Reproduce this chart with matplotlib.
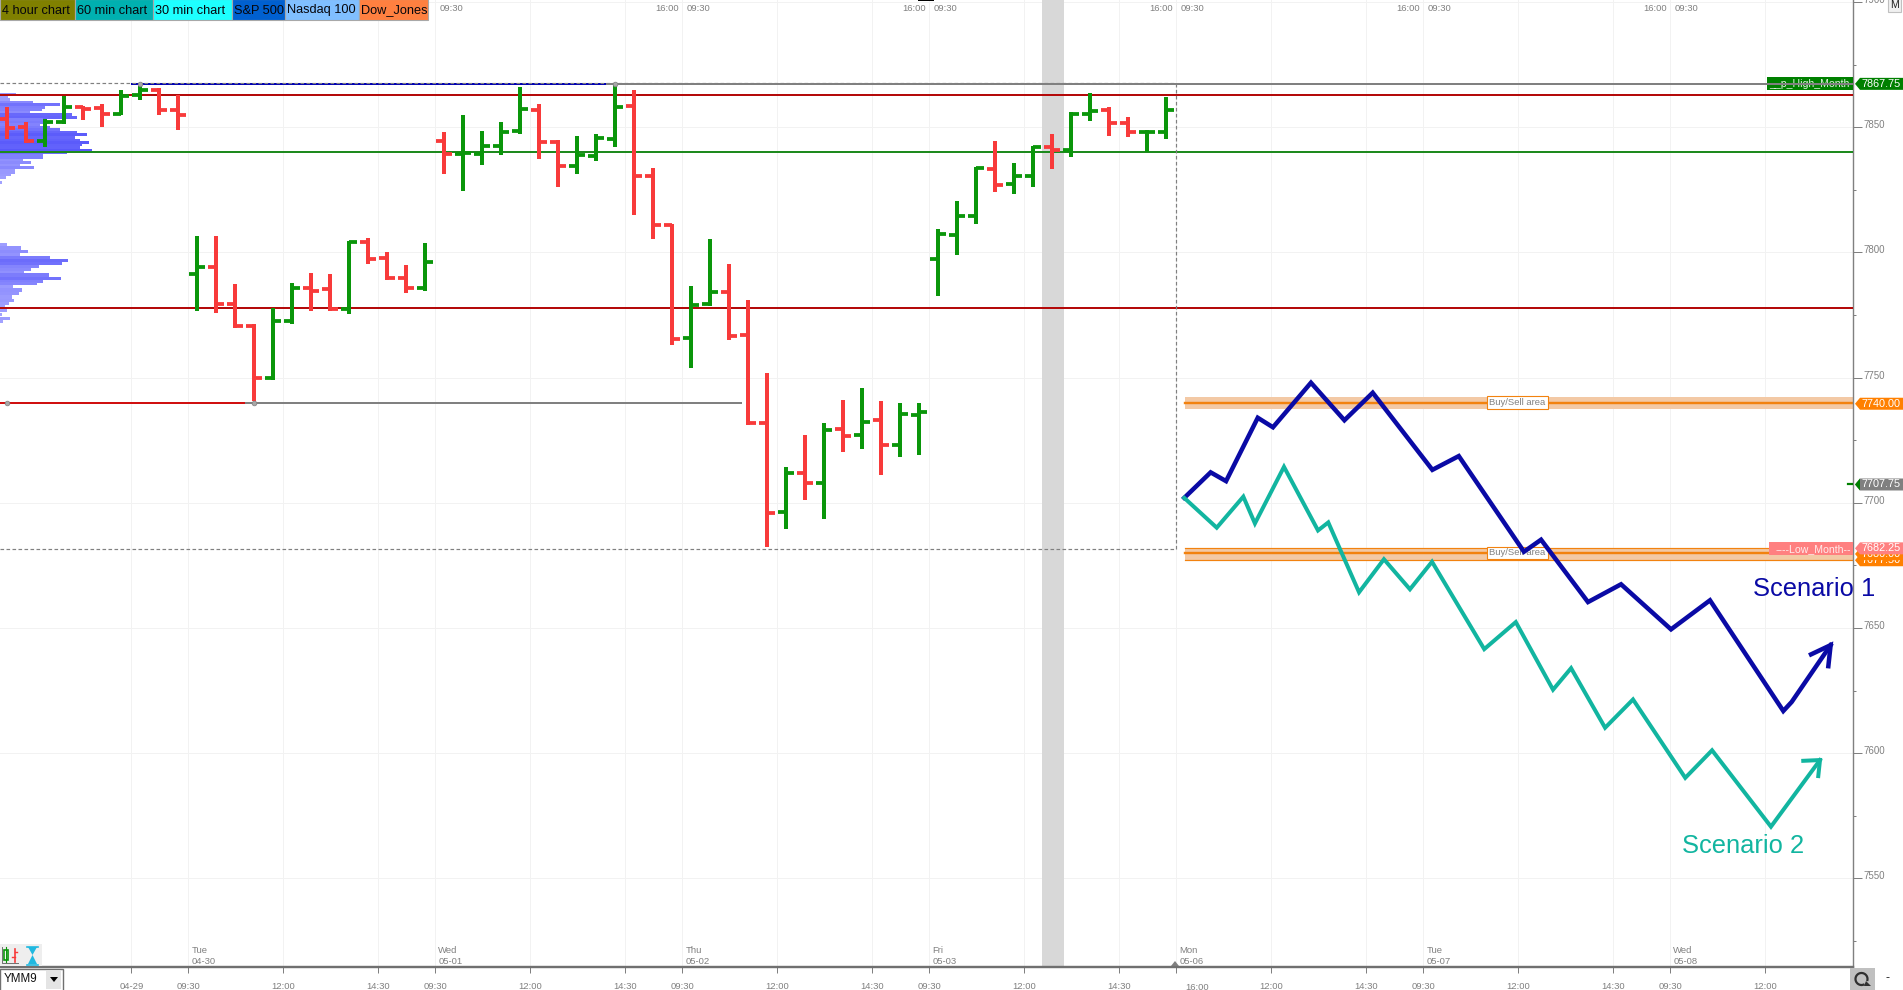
import matplotlib

matplotlib.use("Agg")
import matplotlib.pyplot as plt
import numpy as np
from matplotlib.colors import to_rgb
from matplotlib.patches import Arc, Polygon, Rectangle
from matplotlib.transforms import ScaledTranslation

plt.rcParams["font.family"] = ["Liberation Sans", "DejaVu Sans"]

# Price bars (one value per bar, bar position = list index)
OPENS = [
    7853.25, 7850, 7844.5, 7852, 7858.25, 7857.75, 7855.5, 7862.75, 7865, 7857,
    7791.5, 7794.25, 7779.25, 7770.75, 7749.75, 7772.75, 7786, 7785.25, 7777.25, 7804,
    7798, 7790, 7786, 7844.5, 7839.5, 7839.5, 7842.5, 7848.5, 7857, 7844.25,
    7834.5, 7838.5, 7845.5, 7858.5, 7830.5, 7811, 7766, 7779.25, 7784.25, 7767,
    7731.75, 7696.5, 7712, 7707.75, 7729.5, 7727.25, 7733, 7723.25, 7735, 7797.25,
    7807, 7814.5, 7833.5, 7827.5, 7830.75, 7842.25, 7840.75, 7855.25, 7856.75, 7851.75,
    7848.25, 7848.25,
]
HIGHS = [
    7858, 7852.25, 7853.5, 7862.5, 7858.5, 7859.25, 7864.75, 7866.5, 7865.5, 7863,
    7806.5, 7806.5, 7787.25, 7771.25, 7778, 7788, 7792, 7791.5, 7804.5, 7805.75,
    7800, 7795, 7803.75, 7848, 7854.75, 7848.5, 7852, 7866, 7859.25, 7844.75,
    7846.5, 7847.5, 7867.5, 7864.75, 7833.75, 7811.5, 7786.5, 7805.25, 7795.5, 7781,
    7752, 7714.25, 7727, 7731.75, 7741.25, 7746, 7740.5, 7740, 7739.75, 7809.25,
    7820.5, 7834.25, 7844.5, 7835.75, 7842.5, 7847.25, 7856, 7863.75, 7858, 7854,
    7848.75, 7862,
]
LOWS = [
    7845.25, 7843.75, 7842, 7851.5, 7852.75, 7850, 7854.75, 7861, 7855, 7848.75,
    7776.75, 7775.75, 7770, 7740.5, 7749.25, 7771.5, 7776.75, 7776.75, 7775.5, 7795.5,
    7789, 7783.75, 7784.5, 7831.5, 7824.75, 7835, 7839, 7847.25, 7837.5, 7826.25,
    7831.5, 7836.5, 7842.25, 7815, 7805.5, 7763, 7754, 7778.5, 7765, 7731,
    7682.5, 7689.75, 7701.25, 7693.5, 7720.5, 7721.5, 7711, 7718.5, 7719.25, 7782.75,
    7799, 7811.25, 7824, 7823.5, 7826, 7833.5, 7838.25, 7852.5, 7846.5, 7846.25,
    7840.25, 7845.25,
]
CLOSES = [
    7849.75, 7844.5, 7852.25, 7858.25, 7857.25, 7855.5, 7862.5, 7864.75, 7857, 7854.75,
    7794.25, 7779.25, 7770.75, 7750, 7772.75, 7786, 7784.5, 7777.25, 7804, 7797.5,
    7790, 7785.75, 7796.25, 7839.5, 7839.75, 7842.5, 7848.25, 7857.25, 7844.25, 7834.5,
    7838.75, 7845.75, 7858, 7830.5, 7811, 7765.5, 7779, 7784.25, 7766.75, 7732,
    7696, 7711.75, 7708, 7729, 7726.75, 7732.5, 7723.25, 7735.5, 7736.5, 7807.25,
    7814.5, 7833.75, 7827, 7830.75, 7842, 7840.75, 7855.5, 7856.5, 7851.75, 7848.25,
    7848.25, 7857,
]

# Volume profile on the left edge
PROFILE_TOP_PRICES = [
    7863, 7862, 7861, 7860, 7859, 7858, 7857, 7856, 7855, 7854, 7853, 7852,
    7851, 7850, 7849, 7848, 7847, 7846, 7845, 7844, 7843, 7842, 7841, 7840,
    7839, 7838, 7837, 7836, 7835, 7834, 7833, 7832, 7831, 7830, 7829, 7828,
]
PROFILE_TOP_VOLUME = [
    48, 25, 30, 100, 180, 135, 125, 90, 215, 230, 130, 150,
    120, 150, 180, 230, 260, 225, 240, 266, 245, 240, 276, 200,
    130, 130, 70, 92, 60, 102, 45, 45, 33, 18, 0, 6,
]
PROFILE_LOW_PRICES = [
    7803.25, 7801.75, 7800.5, 7799.25, 7798, 7796.75, 7795.5, 7794.5, 7793.25,
    7792, 7791, 7789.75, 7788.5, 7787.5, 7786.25, 7785, 7783.75, 7782.25,
    7780.75, 7779.5, 7778.25, 7776.75, 7775.25, 7773.75, 7772.5,
]
PROFILE_LOW_VOLUME = [
    21, 63, 84, 60, 150, 204, 186, 117, 93, 72, 147, 183, 129, 111,
    39, 66, 57, 36, 42, 27, 15, 21, 6, 30, 9,
]

# Hand drawn scenarios, each ending in an open arrow head
SCENARIO1_X = [
    61.96, 63.35, 64.16, 65.83, 66.63, 68.63, 70.39, 71.88, 75.02, 76.41,
    79.84, 80.74, 83.21, 84.95, 87.58, 89.63, 93.49, 93.93, 95.98,
]
SCENARIO1_Y = [
    7702, 7712.2, 7708.7, 7734, 7730.2, 7748, 7733, 7744, 7713.2, 7718.7,
    7680.5, 7685.3, 7660.4, 7667.5, 7649.5, 7661.1, 7616.9, 7620.5, 7643.2,
]
SCENARIO1_HEAD_X = [94.95, 95.98, 95.86]
SCENARIO1_HEAD_Y = [7639.5, 7643.2, 7634.8]
SCENARIO2_X = [
    61.96, 63.67, 65.07, 65.68, 67.21, 69, 69.54, 71.16, 72.47, 73.84, 75,
    77.75, 79.41, 81.37, 82.32, 84.11, 85.58, 88.33, 89.74, 92.84, 95.42,
]
SCENARIO2_Y = [
    7702, 7690.1, 7702.5, 7691.8, 7714.4, 7689, 7692.2, 7664.3, 7677.5, 7665.5, 7676.5,
    7641.6, 7652.4, 7625.4, 7634, 7610.2, 7621.5, 7590.2, 7601.2, 7570.7, 7597.3,
]
SCENARIO2_HEAD_X = [94.54, 95.42, 95.33]
SCENARIO2_HEAD_Y = [7597, 7597.3, 7590.9]

# Axis ticks and labels
TIME_TICKS = [
    6.55, 9.55, 14.55, 19.55, 22.55, 27.55, 32.55, 35.55, 40.55, 45.55, 48.55,
    53.55, 58.55, 61.55, 66.55, 71.55, 74.55, 79.55, 84.55, 87.55, 92.55,
]
TIME_LABELS = [
    "04-29", "09:30", "12:00", "14:30", "09:30", "12:00", "14:30", "09:30", "12:00", "14:30", "09:30",
    "12:00", "14:30", "", "12:00", "14:30", "09:30", "12:00", "14:30", "09:30", "12:00",
]
DAY_TICKS = [9.55, 22.55, 35.55, 48.55, 61.55, 74.55, 87.55]
DAY_LABELS = ["Tue\n04-30", "Wed\n05-01", "Thu\n05-02", "Fri\n05-03", "Mon\n05-06", "Tue\n05-07", "Wed\n05-08"]
SESSION_TICKS = [35.55, 48.55, 61.55, 74.55, 87.55]
PRICE_TICKS = [7550, 7600, 7650, 7700, 7750, 7800, 7850, 7900]
PRICE_MINOR_TICKS = [7525, 7575, 7625, 7675, 7725, 7775, 7825, 7875]

# Levels
RESISTANCE_LEVELS = [7863, 7778]
SUPPORT_LEVEL = 7840
HIGH_MONTH = 7867.25
LOW_MONTH = 7681.5
OLD_LOW = 7740
ZONE_CENTERS = [7740, 7680]
ZONE_TOPS = [7742.25, 7682.1]
ZONE_BOTTOMS = [7737.5, 7677]

TAB_LABELS = ["4 hour chart", "60 min chart", "30 min chart", "S&P 500", "Nasdaq 100", "Dow_Jones"]
TAB_COLORS = ["#808000", "#00B0B0", "#1EFFFF", "#0060D0", "#80BFFF", "#FF8040"]
TAB_EDGES = [0, 75, 153, 232, 285, 359, 428]

# (price, text, colour) in drawing order, later tags cover earlier ones
PRICE_TAGS = [
    (7867.75, "7867.75", "#008000"),
    (7740.00, "7740.00", "#FF8000"),
    (7707.75, "7707.75", "#808080"),
    (7677.50, "7677.50", "#FF8000"),
    (7680.00, "7680.00", "#FF8000"),
    (7682.25, "7682.25", "#FF8080"),
]

COLOR_UP = "#0A960A"
COLOR_DOWN = "#F83A3A"
COLOR_DARK_RED = "#B40A0A"
COLOR_GREEN_LINE = "#1E8A1E"
COLOR_GRAY = "#808080"
COLOR_GRID = "#F2F2F2"
COLOR_BLUE = "#0A0AA5"
COLOR_TEAL = "#12B5A0"
COLOR_ORANGE = "#F2820F"
COLOR_ZONE = "#F3C9A5"

# Pixel layout: bars sit 19 px apart, first bar at x=7
PX = 72 / 100
AXIS_RIGHT = 1853
AXIS_BOTTOM = 967
XMIN = -7 / 19
XMAX = (AXIS_RIGHT - 7) / 19
YMAX = 7850 + 127.3 / 2.504
YMIN = 7850 - (AXIS_BOTTOM - 127.3) / 2.504

fig = plt.figure(figsize=(19.03, 9.9), dpi=100, facecolor="white")
ax = fig.add_axes([0, (990 - AXIS_BOTTOM) / 990, AXIS_RIGHT / 1903, AXIS_BOTTOM / 990])
ax.set_xlim(XMIN, XMAX)
ax.set_ylim(YMIN, YMAX)
ax.set_axisbelow(True)
ax.grid(True, color=COLOR_GRID, linewidth=1 * PX)


# Volume profile, darker where volume is larger
def profile_colors(volume):
    light, dark = np.array(to_rgb("#A4A4FF")), np.array(to_rgb("#5858FA"))
    share = np.array(volume) / 276
    return [tuple(light + (dark - light) * s) for s in share]


to_index = 1 / 3 / 19
ax.barh(PROFILE_TOP_PRICES, np.array(PROFILE_TOP_VOLUME) * to_index, height=1.05, left=XMIN,
        color=profile_colors(PROFILE_TOP_VOLUME), antialiased=False, zorder=1)
ax.barh(PROFILE_LOW_PRICES, np.array(PROFILE_LOW_VOLUME) * to_index, height=1.3, left=XMIN,
        color=profile_colors(PROFILE_LOW_VOLUME), antialiased=False, zorder=1)

# Grey session band
ax.axvspan(54.49, 55.61, color="#D8D8D8", linewidth=0, zorder=1)

# Buy/sell zones
for center, top, bottom in zip(ZONE_CENTERS, ZONE_TOPS, ZONE_BOTTOMS):
    ax.fill_between([62, XMAX], bottom, top, color=COLOR_ZONE, linewidth=0, zorder=2)
    ax.plot([62, XMAX], [center, center], color=COLOR_ORANGE, linewidth=2.4 * PX, zorder=2)
    ax.text(79.5, center, "Buy/Sell area", fontsize=6.8, color=COLOR_GRAY, ha="center", va="center", zorder=3,
            bbox=dict(boxstyle="square,pad=0.2", facecolor="white", edgecolor=COLOR_ORANGE, linewidth=0.8))
ax.plot([62, XMAX], [ZONE_TOPS[1]] * 2, color=COLOR_ORANGE, linewidth=1.2 * PX, zorder=2)
ax.plot([62, XMAX], [ZONE_BOTTOMS[1]] * 2, color=COLOR_ORANGE, linewidth=1.2 * PX, zorder=2)

# Horizontal levels
for level in RESISTANCE_LEVELS:
    ax.axhline(level, color=COLOR_DARK_RED, linewidth=2 * PX, zorder=4)
ax.axhline(SUPPORT_LEVEL, color=COLOR_GREEN_LINE, linewidth=2 * PX, zorder=4)

# Labels that the month high line runs across
ax.add_patch(Rectangle((92.63, 7864.9), XMAX - 92.63, 5.2, facecolor="#008000", linewidth=0, zorder=6))
ax.text(XMAX - 0.2, 7867.3, "__p_High_Month", color="#DDF2DD", fontsize=7.6, ha="right", va="center", zorder=6.5)
ax.add_patch(Rectangle((92.74, 7679.2), XMAX - 92.74, 5, facecolor="#FF8080", linewidth=0, zorder=6))
ax.text(XMAX - 0.1, 7681.6, "----Low_Month--", color="#FFECEC", fontsize=7.6, ha="right", va="center", zorder=6.5)

ax.plot([6.58, 31.6], [HIGH_MONTH, HIGH_MONTH], color="#0000B4", linewidth=2 * PX, zorder=7)
ax.plot([31.6, XMAX], [HIGH_MONTH, HIGH_MONTH], color=COLOR_GRAY, linewidth=2 * PX, zorder=7)
ax.plot([XMIN, 12.58], [OLD_LOW, OLD_LOW], color="#D01010", linewidth=2 * PX, zorder=4)
ax.plot([12.58, 38.63], [OLD_LOW, OLD_LOW], color=COLOR_GRAY, linewidth=2 * PX, zorder=4)

# Dashed crosshair of the month range
dash = (0, (3, 2))
ax.plot([XMIN, 61.55], [HIGH_MONTH + 0.4] * 2, color=COLOR_GRAY, linewidth=1.2 * PX, linestyle=dash, zorder=7.5)
ax.plot([XMIN, 61.55], [LOW_MONTH, LOW_MONTH], color=COLOR_GRAY, linewidth=1.2 * PX, linestyle=dash, zorder=4)
ax.plot([61.55, 61.55], [LOW_MONTH, HIGH_MONTH], color=COLOR_GRAY, linewidth=1.2 * PX, linestyle=dash, zorder=4)

# OHLC bars
bar_x = np.arange(len(OPENS))
opens = np.array(OPENS)
closes = np.array(CLOSES)
bar_colors = [COLOR_UP if c >= o else COLOR_DOWN for o, c in zip(opens, closes)]
ax.vlines(bar_x, LOWS, HIGHS, colors=bar_colors, linewidth=4 * PX, zorder=5)
ax.hlines(opens, bar_x - 0.42, bar_x, colors=bar_colors, linewidth=3.8 * PX, zorder=5)
ax.hlines(closes, bar_x, bar_x + 0.42, colors=bar_colors, linewidth=3.8 * PX, zorder=5)

ax.plot([7, 32, 0, 13], [HIGH_MONTH, HIGH_MONTH, OLD_LOW, OLD_LOW], linestyle="none", marker="o", markersize=3.4,
        markerfacecolor="#A8A8A8", markeredgecolor=COLOR_GRAY, markeredgewidth=0.5, zorder=8)

# Scenarios
ax.plot(SCENARIO1_X, SCENARIO1_Y, color=COLOR_BLUE, linewidth=4.5 * PX, solid_joinstyle="miter", zorder=9)
ax.plot(SCENARIO1_HEAD_X, SCENARIO1_HEAD_Y, color=COLOR_BLUE, linewidth=4.5 * PX, solid_joinstyle="miter", zorder=9)
ax.plot(SCENARIO2_X, SCENARIO2_Y, color=COLOR_TEAL, linewidth=4 * PX, solid_joinstyle="miter", zorder=9)
ax.plot(SCENARIO2_HEAD_X, SCENARIO2_HEAD_Y, color=COLOR_TEAL, linewidth=4 * PX, solid_joinstyle="miter", zorder=9)
ax.text(91.88, 7662.8, "Scenario 1", color=COLOR_BLUE, fontsize=18.4, clip_on=False, zorder=9)
ax.text(88.14, 7560, "Scenario 2", color=COLOR_TEAL, fontsize=18.4, clip_on=False, zorder=9)

# Axes
for side in ["top", "left"]:
    ax.spines[side].set_visible(False)
ax.spines["right"].set_color(COLOR_GRAY)
ax.spines["right"].set_linewidth(1.4 * PX)
ax.spines["bottom"].set_color("#707070")
ax.spines["bottom"].set_linewidth(2.4 * PX)

ax.set_xticks(TIME_TICKS)
ax.set_xticklabels(TIME_LABELS)
ax.tick_params(axis="x", length=6 * PX, width=1 * PX, color=COLOR_GRAY, labelcolor=COLOR_GRAY, labelsize=6.8, pad=6.5)
ax.yaxis.tick_right()
ax.set_yticks(PRICE_TICKS)
ax.set_yticks(PRICE_MINOR_TICKS, minor=True)
ax.tick_params(axis="y", which="major", length=9 * PX, width=1 * PX, color=COLOR_GRAY, labelcolor=COLOR_GRAY,
               labelsize=7, pad=0.8)
ax.tick_params(axis="y", which="minor", length=3 * PX, width=1 * PX, color=COLOR_GRAY)
label_shift = ScaledTranslation(0, -3 * PX / 72, fig.dpi_scale_trans)
for label in ax.get_yticklabels():
    label.set_verticalalignment("bottom")
    label.set_transform(label.get_transform() + label_shift)

# The tick at the week change carries its label off to the right
ax.annotate("16:00", xy=(61.55, 0), xycoords=("data", "axes fraction"), xytext=(21 * PX, -20 * PX),
            textcoords="offset points", color=COLOR_GRAY, fontsize=6.8, ha="center", va="center", annotation_clip=False)

# Day labels along the bottom, session times along the top
for tick, label in zip(DAY_TICKS, DAY_LABELS):
    ax.annotate(label, xy=(tick, 0), xycoords=("data", "axes fraction"), xytext=(3 * PX, 0.5 * PX),
                textcoords="offset points", color=COLOR_GRAY, fontsize=6.8, ha="left", va="bottom", linespacing=1.3)
ax.annotate("09:30", xy=(22.55, 1), xycoords=("data", "axes fraction"), xytext=(4 * PX, -8.5 * PX),
            textcoords="offset points", color=COLOR_GRAY, fontsize=6.8, ha="left", va="center", zorder=3)
for tick in SESSION_TICKS:
    ax.annotate("09:30", xy=(tick, 1), xycoords=("data", "axes fraction"), xytext=(4 * PX, -8.5 * PX),
                textcoords="offset points", color=COLOR_GRAY, fontsize=6.8, ha="left", va="center", zorder=3)
    ax.annotate("16:00", xy=(tick, 1), xycoords=("data", "axes fraction"), xytext=(-4 * PX, -8.5 * PX),
                textcoords="offset points", color=COLOR_GRAY, fontsize=6.8, ha="right", va="center", zorder=3)

# Window chrome, drawn in pixels on a full figure overlay
fig.canvas.draw()
ui = fig.add_axes([0, 0, 1, 1], zorder=5)
ui.set_xlim(0, 1903)
ui.set_ylim(990, 0)
ui.axis("off")

for label, color, left, right in zip(TAB_LABELS, TAB_COLORS, TAB_EDGES[:-1], TAB_EDGES[1:]):
    ui.add_patch(Rectangle((left, -1), right - left, 21, facecolor=color, edgecolor="#A8A8A8", linewidth=0.8))
    ui.text(left + 2, 10.5, label, color="#06060C", fontsize=9.2, ha="left", va="center")

for order, (price, text, color) in enumerate(PRICE_TAGS):
    y = 990 - ax.transData.transform((0, price))[1] + 1
    ui.add_patch(Polygon([(1855, y), (1860, y - 6), (1903, y - 6), (1903, y + 6), (1860, y + 6)],
                         facecolor=color, linewidth=0, zorder=10 + order))
    if text == "7707.75":
        ui.add_patch(Polygon([(1855, y), (1860, y - 6), (1860, y + 6)], facecolor="#008000", linewidth=0,
                             zorder=10 + order))
        ui.plot([1848, 1852], [y, y], color="#008000", linewidth=1.6)
    ui.text(1862, y, text, color="white", fontsize=7.8, ha="left", va="center", zorder=10 + order)

# Top right button
ui.add_patch(Rectangle((1888, -2), 13, 14, facecolor="#F0F0F0", edgecolor="#C0C0C0", linewidth=0.8))
ui.text(1894.5, 5.5, "M", color="#202020", fontsize=7.5, ha="center", va="center")
ui.add_patch(Rectangle((918, 0), 16, 1.2, facecolor="black", linewidth=0))

# Bottom left icons
ui.add_patch(Rectangle((0, 944), 42, 22, facecolor="#EEEEEE", linewidth=0))
ui.plot([2, 2, 18], [947, 963, 963], color="#707070", linewidth=0.7)
ui.add_patch(Rectangle((4, 950), 4, 10, facecolor="white", edgecolor="#0A960A", linewidth=1.2))
ui.plot([6, 6], [947, 962], color="#0A960A", linewidth=0.8)
ui.plot([14.5, 14.5], [949, 962], color=COLOR_DOWN, linewidth=1.2)
ui.plot([12, 14.5], [957, 957], color=COLOR_DOWN, linewidth=1)
ui.plot([14.5, 17], [952, 952], color=COLOR_DOWN, linewidth=1)
ui.add_patch(Polygon([(28, 947), (37, 947), (32.5, 955)], facecolor="#20B8E0", linewidth=0))
ui.add_patch(Polygon([(28, 964), (37, 964), (32.5, 955)], facecolor="#20B8E0", linewidth=0))
ui.plot([27, 38], [946.5, 946.5], color="#20B8E0", linewidth=1.2)
ui.plot([27, 38], [964.5, 964.5], color="#20B8E0", linewidth=1.2)

# Contract selector
ui.add_patch(Rectangle((0, 969), 63, 24, facecolor="white", edgecolor="#707070", linewidth=1))
ui.add_patch(Rectangle((46, 971), 15, 18, facecolor="#E4E4E4", linewidth=0))
ui.add_patch(Polygon([(50, 977), (58, 977), (54, 982)], facecolor="black", linewidth=0))
ui.text(4, 979, "YMM9", color="#101010", fontsize=8.4, ha="left", va="center")

# Week change marker on the time axis
ui.add_patch(Polygon([(1171, 966), (1175, 961), (1179, 966)], facecolor=COLOR_GRAY, linewidth=0))

# Bottom right buttons
ui.add_patch(Rectangle((1850, 968), 25, 22, facecolor="#C0C0C0", linewidth=0))
ui.add_patch(Arc((1861.5, 979), 12, 12, theta1=60, theta2=20, edgecolor="#303030", linewidth=1.6))
ui.add_patch(Polygon([(1866, 981), (1871, 986), (1864, 986)], facecolor="#303030", linewidth=0))
ui.text(1887, 978, "-", color="#202020", fontsize=9, ha="center", va="center")

fig.savefig("out.png", dpi=100)
